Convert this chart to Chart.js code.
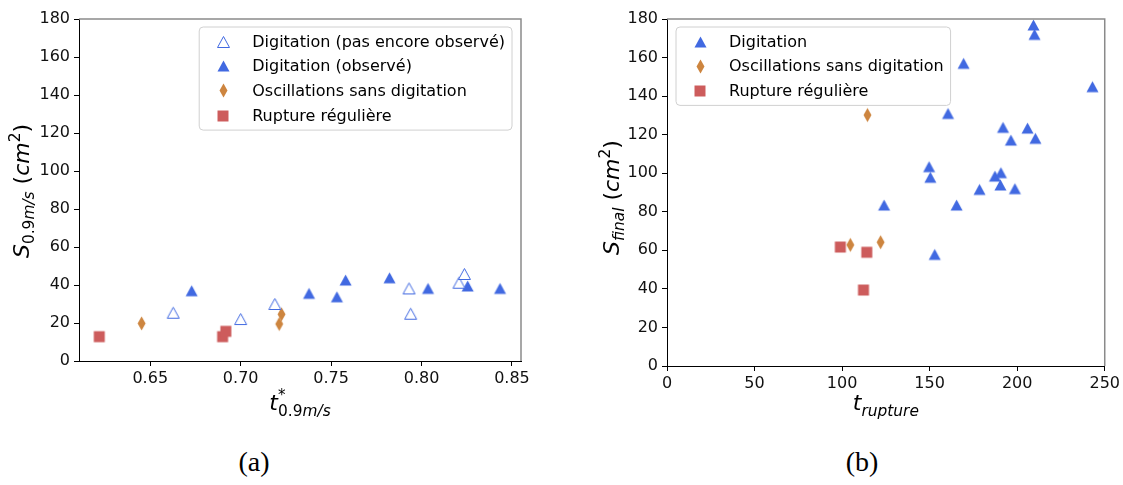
<!DOCTYPE html>
<html>
<head>
<meta charset="utf-8">
<script src="https://cdn.jsdelivr.net/npm/chart.js@4.4.1/dist/chart.umd.min.js"></script>
<style>
  body { margin: 0; background: #fff; width: 1123px; height: 485px; position: relative; overflow: hidden; }
  canvas { position: absolute; top: 0; }
  #chartA { left: 0; }
  #chartB { left: 590px; }
  .cap { position: absolute; top: 446px; font-family: "Liberation Serif", serif; font-size: 28px; color: #000; transform: translateX(-50%); }
</style>
</head>
<body>
<canvas id="chartA" width="545" height="420"></canvas>
<canvas id="chartB" width="533" height="420"></canvas>
<div class="cap" style="left:254px">(a)</div>
<div class="cap" style="left:862px">(b)</div>
<script>
// (a) S at 0.9 m/s versus t*
const tStarOpen = [0.6627, 0.700, 0.7189, 0.7931, 0.794, 0.8207, 0.8237];
const sOpen = [25.4, 22.1, 30.0, 38.2, 24.9, 41.2, 45.8];
const tStarDigit = [0.6729, 0.7378, 0.7532, 0.758, 0.7823, 0.8036, 0.8255, 0.8434];
const sDigit = [37.0, 35.6, 33.8, 42.6, 43.8, 38.2, 39.5, 38.2];
const tStarOsc = [0.6452, 0.7213, 0.7226];
const sOsc = [19.8, 19.5, 24.6];
const tStarRupt = [0.6218, 0.690, 0.6918];
const sRupt = [12.8, 12.8, 15.6];

// (b) final surface versus rupture time
const tRuptDigit = [209.3, 209.9, 169.4, 243.0, 160.5, 191.9, 205.9, 196.4, 210.4, 149.7, 150.4, 187.3, 190.7, 190.4, 178.5, 198.7, 124.0, 165.4, 152.9];
const sFinalDigit = [176.9, 172.0, 157.0, 144.9, 131.0, 123.8, 123.4, 117.2, 118.1, 103.4, 97.9, 98.5, 100.3, 93.9, 91.6, 92.0, 83.5, 83.5, 57.9];
const tRuptOsc = [114.5, 104.7, 122.0];
const sFinalOsc = [130.2, 62.8, 64.2];
const tRuptRupt = [99.0, 114.1, 112.2];
const sFinalRupt = [61.7, 59.0, 39.4];

// ticks
const xTicksA = [0.65, 0.70, 0.75, 0.80, 0.85];
const xTicksB = [0, 50, 100, 150, 200, 250];
const yTicks = [0, 20, 40, 60, 80, 100, 120, 140, 160, 180];

const BLUE = "#4169E1", ORANGE = "#CD853F", RED = "#CD5C5C";
const FONT = '"DejaVu Sans"';

function marker(shape, w, h, fill, stroke) {
  const c = document.createElement("canvas");
  c.width = w + 3; c.height = h + 3;
  const g = c.getContext("2d");
  const cx = c.width / 2, cy = c.height / 2;
  g.beginPath();
  if (shape === "tri") {
    g.moveTo(cx, cy - h / 2); g.lineTo(cx + w / 2, cy + h / 2); g.lineTo(cx - w / 2, cy + h / 2);
  } else if (shape === "dia") {
    g.moveTo(cx, cy - h / 2); g.lineTo(cx + w / 2, cy); g.lineTo(cx, cy + h / 2); g.lineTo(cx - w / 2, cy);
  } else {
    g.rect(cx - w / 2, cy - h / 2, w, h);
  }
  g.closePath();
  g.fillStyle = fill; g.fill();
  if (stroke) { g.strokeStyle = stroke; g.lineWidth = 1; g.stroke(); }
  return c;
}
const triOpen = marker("tri", 12, 11, "#fff", BLUE);
const triFull = marker("tri", 12, 11, BLUE);
const diamond = marker("dia", 8, 14, ORANGE);
const square = marker("sq", 11, 11, RED);

const zip = (xs, ys) => xs.map((x, i) => ({ x: x, y: ys[i] }));

function drawRich(ctx, parts, x, y, angle) {
  ctx.save();
  ctx.translate(x, y);
  ctx.rotate(angle);
  let w = 0;
  for (const p of parts) {
    ctx.font = p.font;
    p.w = ctx.measureText(p.text).width;
    if (p.adv !== false) w += p.w;
  }
  let cx = -w / 2;
  ctx.fillStyle = "#000";
  ctx.textBaseline = "alphabetic";
  ctx.textAlign = "left";
  for (const p of parts) {
    ctx.font = p.font;
    ctx.fillText(p.text, cx, p.dy || 0);
    if (p.adv !== false) cx += p.w;
  }
  ctx.restore();
}

const it = s => "italic " + s + "px " + FONT;
const up = s => s + "px " + FONT;

const decor = {
  id: "decor",
  afterDraw(chart, args, o) {
    const ctx = chart.ctx, a = chart.chartArea;
    // top and right spines
    ctx.save();
    ctx.strokeStyle = "#8a8a8a";
    ctx.lineWidth = 1.5;
    ctx.beginPath();
    ctx.moveTo(a.left, a.top); ctx.lineTo(a.right, a.top); ctx.lineTo(a.right, a.bottom);
    ctx.stroke();
    ctx.restore();
    // axis titles
    drawRich(ctx, o.xTitle, (a.left + a.right) / 2, a.bottom + o.xGap, 0);
    drawRich(ctx, o.yTitle, a.left - o.yGap, (a.top + a.bottom) / 2 + o.yShift, -Math.PI / 2);
    // legend box
    const rowH = 24.7, n = o.items.length;
    ctx.font = up(16);
    const tw = Math.max(...o.items.map(i => ctx.measureText(i.label).width));
    const bw = 53 + tw + 7, bh = 29 + (n - 1) * rowH;
    const bx = o.anchor === "right" ? a.right - 9 - bw : a.left + 9;
    const by = a.top + 8;
    ctx.save();
    ctx.beginPath();
    ctx.roundRect(bx, by, bw, bh, 4);
    ctx.fillStyle = "rgba(255,255,255,0.8)";
    ctx.fill();
    ctx.strokeStyle = "#d0d0d0";
    ctx.lineWidth = 1;
    ctx.stroke();
    ctx.fillStyle = "#000";
    ctx.textBaseline = "middle";
    o.items.forEach((item, i) => {
      const ry = by + 14.5 + i * rowH;
      ctx.drawImage(item.img, Math.round(bx + 24 - item.img.width / 2), Math.round(ry - item.img.height / 2));
      ctx.fillText(item.label, bx + 53, ry + 1);
    });
    ctx.restore();
  }
};

function makeChart(id, datasets, xCfg, yW, xH, padRight, deco) {
  return new Chart(document.getElementById(id), {
    type: "scatter",
    data: { datasets: datasets },
    options: {
      responsive: false,
      animation: false,
      events: [],
      devicePixelRatio: 1,
      layout: { padding: { top: 19, right: padRight, left: 0, bottom: 0 } },
      plugins: { legend: { display: false }, tooltip: { enabled: false }, decor: deco },
      scales: {
        x: {
          type: "linear",
          min: xCfg.min,
          max: xCfg.max,
          afterBuildTicks: s => { s.ticks = xCfg.ticks.map(v => ({ value: v })); },
          afterFit: s => { s.height = xH; },
          ticks: { color: "#111", padding: 3, maxRotation: 0, font: { family: FONT, size: 16 }, callback: xCfg.fmt },
          grid: { drawOnChartArea: false, drawTicks: true, tickLength: 5, color: "#000" },
          border: { color: "#000", width: 1 }
        },
        y: {
          min: 0,
          max: 180,
          afterBuildTicks: s => { s.ticks = yTicks.map(v => ({ value: v })); },
          afterFit: s => { s.width = yW; },
          ticks: { color: "#111", padding: 4, font: { family: FONT, size: 16 } },
          grid: { drawOnChartArea: false, drawTicks: true, tickLength: 5, color: "#000" },
          border: { color: "#000", width: 1 }
        }
      }
    },
    plugins: [decor]
  });
}

makeChart("chartA", [
  { label: "Digitation (pas encore observé)", data: zip(tStarOpen, sOpen), pointStyle: triOpen },
  { label: "Digitation (observé)", data: zip(tStarDigit, sDigit), pointStyle: triFull },
  { label: "Oscillations sans digitation", data: zip(tStarOsc, sOsc), pointStyle: diamond },
  { label: "Rupture régulière", data: zip(tStarRupt, sRupt), pointStyle: square }
], { min: 0.6106, max: 0.855, ticks: xTicksA, fmt: v => v.toFixed(2) }, 79, 59, 24, {
  anchor: "right",
  items: [
    { label: "Digitation (pas encore observé)", img: triOpen },
    { label: "Digitation (observé)", img: triFull },
    { label: "Oscillations sans digitation", img: diamond },
    { label: "Rupture régulière", img: square }
  ],
  xGap: 49,
  xTitle: [
    { text: "t", font: it(22) },
    { text: "*", font: up(15), dy: -10, adv: false },
    { text: "0.9", font: up(15.4), dy: 6 },
    { text: "m/s", font: it(15.4), dy: 6 }
  ],
  yGap: 50,
  yShift: 1,
  yTitle: [
    { text: "S", font: it(22) },
    { text: "0.9", font: up(15.4), dy: 5 },
    { text: "m/s", font: it(15.4), dy: 5 },
    { text: " (", font: up(22) },
    { text: "cm", font: it(22) },
    { text: "2", font: up(15.4), dy: -9 },
    { text: ")", font: up(22) }
  ]
});

makeChart("chartB", [
  { label: "Digitation", data: zip(tRuptDigit, sFinalDigit), pointStyle: triFull },
  { label: "Oscillations sans digitation", data: zip(tRuptOsc, sFinalOsc), pointStyle: diamond },
  { label: "Rupture régulière", data: zip(tRuptRupt, sFinalRupt), pointStyle: square }
], { min: 0, max: 250, ticks: xTicksB, fmt: v => String(v) }, 77, 54, 15, {
  anchor: "left",
  items: [
    { label: "Digitation", img: triFull },
    { label: "Oscillations sans digitation", img: diamond },
    { label: "Rupture régulière", img: square }
  ],
  xGap: 44,
  xTitle: [
    { text: "t", font: it(22) },
    { text: "rupture", font: it(15.4), dy: 6 }
  ],
  yGap: 48,
  yShift: 5,
  yTitle: [
    { text: "S", font: it(22) },
    { text: "final", font: it(15.4), dy: 5 },
    { text: " (", font: up(22) },
    { text: "cm", font: it(22) },
    { text: "2", font: up(15.4), dy: -9 },
    { text: ")", font: up(22) }
  ]
});
</script>
</body>
</html>
